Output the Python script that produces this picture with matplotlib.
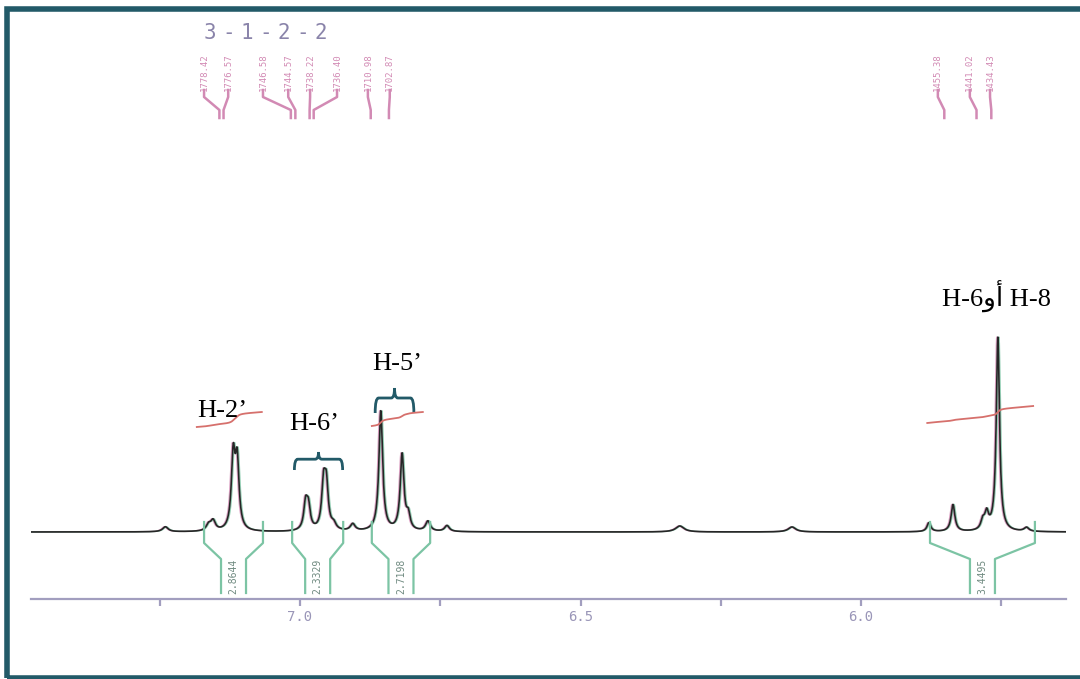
import numpy as np
import matplotlib.pyplot as plt
from matplotlib.path import Path
from matplotlib.patches import PathPatch, Rectangle

# peaks: position (ppm), height (above baseline), half width (ppm)
peak_ppm = [7.240, 7.163, 7.155, 7.119, 7.112,
            6.990, 6.985, 6.958, 6.953, 6.940, 6.906,
            6.856, 6.818, 6.807, 6.772, 6.738,
            6.323, 6.123,
            5.879, 5.836, 5.783, 5.776, 5.756, 5.705]
peak_height = [5, 6, 10, 72, 66,
               26, 22, 44, 42, 6, 7,
               120, 76, 14, 10, 6,
               6, 5,
               9, 27, 9, 16, 194, 4]
peak_width = [0.006, 0.005, 0.005, 0.004, 0.004,
              0.004, 0.004, 0.004, 0.004, 0.005, 0.005,
              0.004, 0.004, 0.004, 0.005, 0.005,
              0.009, 0.008,
              0.004, 0.004, 0.004, 0.004, 0.0035, 0.005]

# integral traces (red)
int_left = [7.184, 6.872, 5.882]
int_right = [7.068, 6.781, 5.693]
int_start = [105, 106, 109]
int_drift = [4, 3, 8]
int_step = [11, 11, 9]

# integral brackets (green) and their values
brk_left = [7.171, 7.014, 6.872, 5.877]
brk_right = [7.066, 6.923, 6.768, 5.690]
brk_value = ["2.8644", "2.3329", "2.7198", "3.4495"]

# peak picking labels (Hz) and where their text sits (ppm)
label_hz = [1778.42, 1776.57, 1746.58, 1744.57, 1738.22, 1736.40,
            1710.98, 1702.87, 1455.38, 1441.02, 1434.43]
label_pos = [7.171, 7.128, 7.066, 7.021, 6.982, 6.934,
             6.879, 6.840, 5.863, 5.806, 5.770]
spec_mhz = 250.0
label_shift = 0.03

# assignments
assign_text = ["H-2\u2019", "H-6\u2019", "H-5\u2019", "H-6\u0648\u0623 H-8"]
assign_x = [7.139, 6.975, 6.827, 5.759]
assign_y = [115, 102, 162, 225]

# braces over multiplets
brace_left = [7.010, 6.866]
brace_right = [6.924, 6.797]
brace_base = [62, 119]
brace_tip = [80, 144]

xticks = [7.5, 7.0, 6.5, 6.0]
xticks_minor = [7.25, 6.75, 6.25, 5.75]

BLACK = '#262626'
PINK = '#d28ab4'
GREEN = '#7cc4a4'
RED = '#d6706c'
AXIS = '#a29ebf'
TEAL = '#225a68'

fig = plt.figure(figsize=(10.8, 6.79), dpi=100)
ax = fig.add_axes([31 / 1080, (679 - 599) / 679, (1066 - 31) / 1080, (599 - 15) / 679])

# spectrum as a sum of lorentzians
ppm = np.linspace(7.48, 5.63, 8000)
spec = np.zeros_like(ppm)
for p, h, w in zip(peak_ppm, peak_height, peak_width):
    spec += h / (1 + ((ppm - p) / w) ** 2)

ax.plot(ppm + 0.002, spec, color=PINK, lw=1.0, alpha=0.8)
ax.plot(ppm - 0.002, spec, color=GREEN, lw=1.0, alpha=0.8)
ax.plot(ppm, spec, color=BLACK, lw=1.2)

# integral traces
for l, r, s, d, st in zip(int_left, int_right, int_start, int_drift, int_step):
    m = (ppm <= l) & (ppm >= r)
    xs = ppm[m]
    cum = np.cumsum(spec[m])
    cum = cum / cum[-1]
    frac = (l - xs) / (l - r)
    ax.plot(xs, s + d * frac + st * cum, color=RED, lw=1.3)

# integral brackets
half = 12.5 / 561
for l, r, v in zip(brk_left, brk_right, brk_value):
    c = (l + r) / 2
    ax.plot([l, l, c + half, c + half], [10, -11, -27, -61], color=GREEN, lw=1.6)
    ax.plot([r, r, c - half, c - half], [10, -11, -27, -61], color=GREEN, lw=1.6)
    ax.text(c, -44, v, rotation=90, ha='center', va='center', fontsize=7,
            family='DejaVu Sans Mono', color='#6f8a80')

# peak labels
for hz, pos in zip(label_hz, label_pos):
    foot = hz / spec_mhz + label_shift
    ax.plot([pos, pos, foot, foot], [442, 435, 422, 414], color=PINK, lw=1.8)
    ax.text(pos, 460, f"{hz:.2f}", rotation=90, ha='center', va='center',
            fontsize=6.5, family='DejaVu Sans Mono', color=PINK)

# braces
d = 0.006
for l, r, yb, yt in zip(brace_left, brace_right, brace_base, brace_tip):
    m = (l + r) / 2
    yf = yb + (yt - yb) * 0.6
    verts = [(l, yb), (l, yf), (l - d, yf), (m + d, yf), (m, yf), (m, yt),
             (m, yf), (m - d, yf), (r + d, yf), (r, yf), (r, yb)]
    codes = [Path.MOVETO, Path.CURVE3, Path.CURVE3, Path.LINETO, Path.CURVE3, Path.CURVE3,
             Path.CURVE3, Path.CURVE3, Path.LINETO, Path.CURVE3, Path.CURVE3]
    ax.add_patch(PathPatch(Path(verts, codes), fill=False, ec=TEAL, lw=2))

# assignments
for t, x, y in zip(assign_text, assign_x, assign_y):
    ax.text(x, y, t, ha='center', va='baseline', fontsize=19,
            family=['Liberation Serif', 'DejaVu Sans'], color='black')

# axis
for s in ['left', 'top', 'right']:
    ax.spines[s].set_visible(False)
ax.spines['bottom'].set_color(AXIS)
ax.spines['bottom'].set_linewidth(1.6)
ax.set_yticks([])
ax.set_xticks(xticks)
ax.set_xticklabels([f"{t:.1f}" for t in xticks], family='DejaVu Sans Mono',
                   fontsize=10, color='#9a96b8')
ax.set_xticks(xticks_minor, minor=True)
ax.tick_params(axis='x', which='both', direction='out', length=5, width=1.6,
               color=AXIS, pad=3)
# limits after the ticks, so the 7.5 tick does not widen the view
ax.set_xlim(7.0 + 269 / 561, 6.0 - 205 / 561)
ax.set_ylim(-67, 517)

# title
title = "3-1-2-2"
for i, ch in enumerate(title):
    fig.text((210 + 18.5 * i) / 1080, 1 - 33 / 679, ch, ha='center', va='center',
             fontsize=15, family='DejaVu Sans Mono', color='#8a84aa')

# frame
fig.add_artist(Rectangle((7 / 1080, 1.5 / 679), 1.1, 669 / 679, transform=fig.transFigure,
                         fill=False, ec=TEAL, lw=4))

fig.savefig('out.png', dpi=100)
